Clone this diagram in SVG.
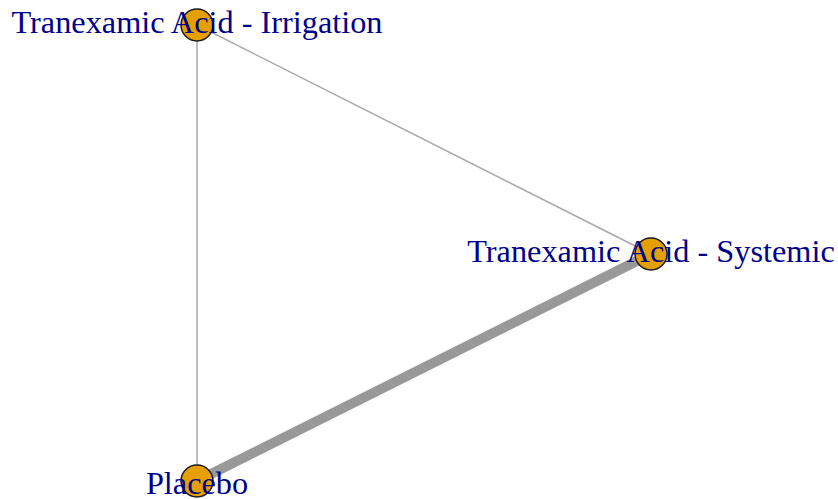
<svg xmlns="http://www.w3.org/2000/svg" width="838" height="499" viewBox="0 0 838 499">
<style>
.e{stroke:#a8a8a8;fill:none;stroke-linecap:butt}
.n{fill:#E69F00;stroke:#1a1a1a;stroke-width:1.5}
.l{font-family:"Liberation Serif",serif;font-size:32.3px;fill:#00008B;text-anchor:middle}
</style>
<rect width="838" height="499" fill="#ffffff"/>
<g id="connectors">
<line class="e" x1="197" y1="25" x2="197" y2="481" stroke-width="1.5"/>
<line class="e" x1="197" y1="25" x2="651" y2="254" stroke-width="1.5"/>
<line class="e" x1="197" y1="481" x2="651" y2="254" stroke-width="10" style="stroke:#999999"/>
</g>
<g id="node-irrigation">
<circle class="n" cx="197" cy="25" r="16"/>
<text class="l" x="197" y="33">Tranexamic Acid - Irrigation</text>
</g>
<g id="node-systemic">
<circle class="n" cx="651" cy="254" r="16"/>
<text class="l" x="651" y="262">Tranexamic Acid - Systemic</text>
</g>
<g id="node-placebo">
<circle class="n" cx="197" cy="481" r="16"/>
<text class="l" x="197" y="494">Placebo</text>
</g>
</svg>
